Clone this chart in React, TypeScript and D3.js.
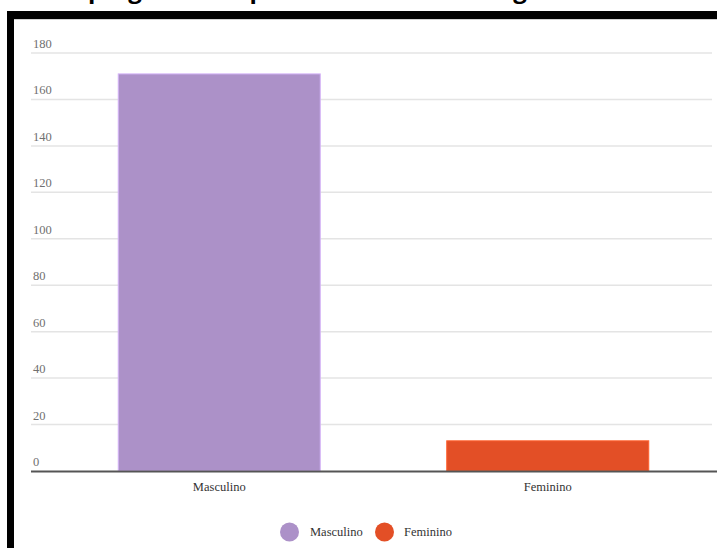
import React from "react";
import * as d3 from "d3";

const categories = ["Masculino", "Feminino"];
const values = [171, 13];
const colors = ["#ac91c8", "#e34f26"];
const yTicks = [0, 20, 40, 60, 80, 100, 120, 140, 160, 180];
const title = "Emprego formal por sexo no setor de agricultura";

const W = 717;
const H = 548;
const SERIF = "'Liberation Serif', 'Times New Roman', serif";

export default function App() {
  const y = d3.scaleLinear().domain([0, 180]).range([471, 53]);
  const x = d3
    .scaleBand<string>()
    .domain(categories)
    .range([55, 712])
    .paddingInner(0.385)
    .paddingOuter(0.1925);

  const legendItems = [
    { label: categories[0], cx: 289.5, tx: 310 },
    { label: categories[1], cx: 384.5, tx: 404 },
  ];

  return (
    <div style={{ position: "fixed", left: 0, top: 0, width: W, height: H, background: "#fff" }}>
      <svg width={W} height={H} style={{ display: "block" }}>
        <rect x={0} y={0} width={W} height={H} fill="#fff" />
        {/* cropped title */}
        <text
          x={51}
          y={-2}
          fontFamily="'Open Sans', sans-serif"
          fontWeight={700}
          fontSize={24}
          fill="#000"
        >
          {title}
        </text>
        {/* frame */}
        <rect x={7} y={11} width={W - 7} height={8} fill="#000" />
        <rect x={7} y={11} width={7} height={H - 11} fill="#000" />
        <line x1={14} x2={W} y1={19.5} y2={19.5} stroke="#d0d0d0" strokeWidth={1} />

        {/* grid and y labels */}
        {yTicks.map((t) => (
          <g key={t}>
            {t > 0 && (
              <line x1={31} x2={712} y1={y(t)} y2={y(t)} stroke="#e4e4e4" strokeWidth={1.5} />
            )}
            <text x={33} y={y(t) - 5} fontFamily={SERIF} fontSize={12.5} fill="#707070">
              {t}
            </text>
          </g>
        ))}

        {/* bars */}
        {categories.map((c, i) => (
          <rect
            key={c}
            x={x(c)!}
            y={y(values[i])}
            width={x.bandwidth()}
            height={y(0) - y(values[i])}
            fill={colors[i]}
            stroke={d3.color(colors[i])!.brighter(0.6).formatHex()}
            strokeWidth={1}
          />
        ))}

        {/* x axis */}
        <line x1={31} x2={W} y1={471.5} y2={471.5} stroke="#555" strokeWidth={2} />
        {categories.map((c) => (
          <text
            key={c}
            x={x(c)! + x.bandwidth() / 2}
            y={491}
            textAnchor="middle"
            fontFamily={SERIF}
            fontSize={12.5}
            fill="#333"
          >
            {c}
          </text>
        ))}

        {/* legend */}
        {legendItems.map((l, i) => (
          <g key={l.label}>
            <circle cx={l.cx} cy={532} r={9.5} fill={colors[i]} />
            <text x={l.tx} y={536} fontFamily={SERIF} fontSize={12.5} fill="#333">
              {l.label}
            </text>
          </g>
        ))}
      </svg>
    </div>
  );
}
